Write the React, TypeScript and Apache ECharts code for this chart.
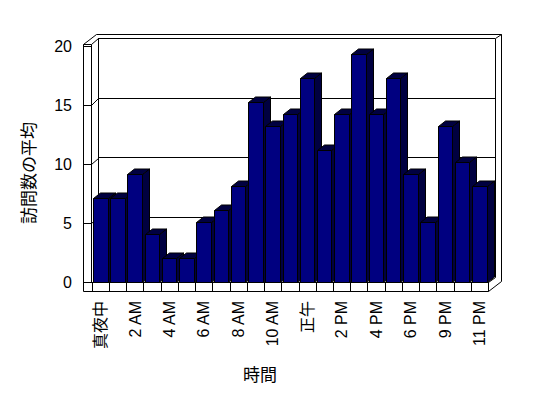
import React, { useEffect, useRef } from "react";
import * as echarts from "echarts";

const categories = [
  "真夜中", "1 AM", "2 AM", "3 AM", "4 AM", "5 AM", "6 AM", "7 AM", "8 AM", "9 AM", "10 AM", "11 AM",
  "正午", "1 PM", "2 PM", "3 PM", "4 PM", "5 PM", "6 PM", "7 PM", "9 PM", "10 PM", "11 PM",
];
const visits = [7, 7, 9, 4, 2, 2, 5, 6, 8, 15, 13, 14, 17, 11, 14, 19, 14, 17, 9, 5, 13, 10, 8];
const yMin = 0;
const yMax = 20;
const yStep = 5;
const sideGridValues = [5, 10, 15];
const yTitle = "訪問数の平均";
const xTitle = "時間";

const FONT = "'Liberation Sans', 'Noto Sans CJK JP', sans-serif";
const FRONT = "#000080";
const SHADE = "#000040";
const DX = 7;
const DY = 5.5;

export default function App() {
  const ref = useRef<HTMLDivElement>(null);
  useEffect(() => {
    document.body.style.margin = "0";
    const chart = echarts.init(ref.current!, null, { renderer: "svg" });
    const line = (x1: number, y1: number, x2: number, y2: number) => ({
      type: "line",
      silent: true,
      shape: { x1, y1, x2, y2 },
      style: { stroke: "#000", lineWidth: 1 },
    });
    const option: any = {
      animation: false,
      backgroundColor: "#fff",
      grid: [
        { left: 92, top: 42, width: 396.3, height: 240 },
        { left: 83, top: 46, width: 10, height: 236 },
        { left: 98, top: 38.5, width: 397, height: 238 },
      ],
      xAxis: [
        {
          type: "category",
          gridIndex: 0,
          data: categories,
          boundaryGap: true,
          axisLine: { show: true, lineStyle: { color: "#000", width: 1 } },
          axisTick: { show: true, length: 9, interval: 0, lineStyle: { color: "#000" } },
          axisLabel: {
            interval: 1,
            rotate: 90,
            margin: 19,
            fontSize: 16,
            color: "#000",
            fontFamily: FONT,
          },
          splitLine: { show: false },
        },
        { type: "value", gridIndex: 1, show: false },
        { type: "value", gridIndex: 2, show: false },
      ],
      yAxis: [
        { type: "value", gridIndex: 0, min: yMin, max: yMax, interval: yStep, show: false },
        {
          type: "value",
          gridIndex: 1,
          min: yMin,
          max: yMax,
          interval: yStep,
          axisLine: { show: true, lineStyle: { color: "#000" } },
          axisTick: { show: true, inside: true, length: 8, lineStyle: { color: "#000" } },
          axisLabel: { margin: 11, fontSize: 16, color: "#000", fontFamily: FONT },
          splitLine: { show: false },
        },
        {
          type: "value",
          gridIndex: 2,
          min: yMin,
          max: yMax,
          interval: yStep,
          axisLine: { show: true, lineStyle: { color: "#000" } },
          axisTick: { show: false },
          axisLabel: { show: false },
          splitLine: { show: true, lineStyle: { color: "#000", width: 1 } },
        },
      ],
      series: [
        {
          type: "custom",
          xAxisIndex: 0,
          yAxisIndex: 0,
          data: visits.map((v, i) => [i, v]),
          z: 5,
          renderItem: (params: any, api: any) => {
            const i = api.value(0);
            const v = api.value(1);
            const top = api.coord([i, v]);
            const base = api.coord([i, 0]);
            const bw = api.size([1, 0])[0];
            const L = Math.round(top[0] - bw / 2 + 1) + 0.5;
            const R = Math.round(top[0] - bw / 2 + 15.5) + 0.5;
            const T = Math.round(top[1]) + 0.5;
            const B = Math.round(base[1]) + 0.5;
            const stroke = { stroke: "#000", lineWidth: 1 };
            return {
              type: "group",
              children: [
                {
                  type: "polygon",
                  shape: { points: [[R, T], [R + DX, T - DY], [R + DX, B - DY], [R, B]] },
                  style: { fill: SHADE, ...stroke },
                },
                {
                  type: "polygon",
                  shape: { points: [[L, T], [L + DX, T - DY], [R + DX, T - DY], [R, T]] },
                  style: { fill: SHADE, ...stroke },
                },
                {
                  type: "rect",
                  shape: { x: L, y: T, width: R - L, height: B - T },
                  style: { fill: FRONT, ...stroke },
                },
              ],
            };
          },
        },
      ],
    };
    chart.setOption(option);

    const diag: any[] = sideGridValues.map((v) => {
      const fy = Math.round(chart.convertToPixel({ yAxisIndex: 1 }, v) as number) + 0.5;
      const by = Math.round(chart.convertToPixel({ yAxisIndex: 2 }, v) as number) + 0.5;
      return line(91.5, fy, 98.5, by);
    });

    chart.setOption({
      graphic: [
        line(83.5, 44.5, 83.5, 291.5),
        line(91.5, 44.5, 91.5, 282.5),
        line(83.5, 44.5, 91.5, 44.5),
        line(83.5, 44.5, 96.5, 34.5),
        line(91.5, 44.5, 98.5, 38.5),
        line(96.5, 34.5, 501.5, 34.5),
        line(495.5, 38.5, 501.5, 34.5),
        line(495.5, 38.5, 495.5, 277.5),
        line(501.5, 34.5, 501.5, 281.5),
        line(83.5, 282.5, 488.5, 282.5),
        line(83.5, 291.5, 488.5, 291.5),
        line(488.5, 282.5, 488.5, 291.5),
        line(488.5, 291.5, 501.5, 281.5),
        line(488.5, 282.5, 495.5, 277.5),
        ...diag,
        {
          type: "text",
          x: 29,
          y: 173,
          rotation: Math.PI / 2,
          style: {
            text: yTitle,
            fontSize: 17,
            fontFamily: FONT,
            fill: "#000",
            align: "center",
            verticalAlign: "middle",
          },
        },
        {
          type: "text",
          x: 260,
          y: 375,
          style: {
            text: xTitle,
            fontSize: 17,
            fontFamily: FONT,
            fill: "#000",
            align: "center",
            verticalAlign: "middle",
          },
        },
      ],
    });
    return () => chart.dispose();
  }, []);
  return <div ref={ref} style={{ width: 548, height: 398 }} />;
}
